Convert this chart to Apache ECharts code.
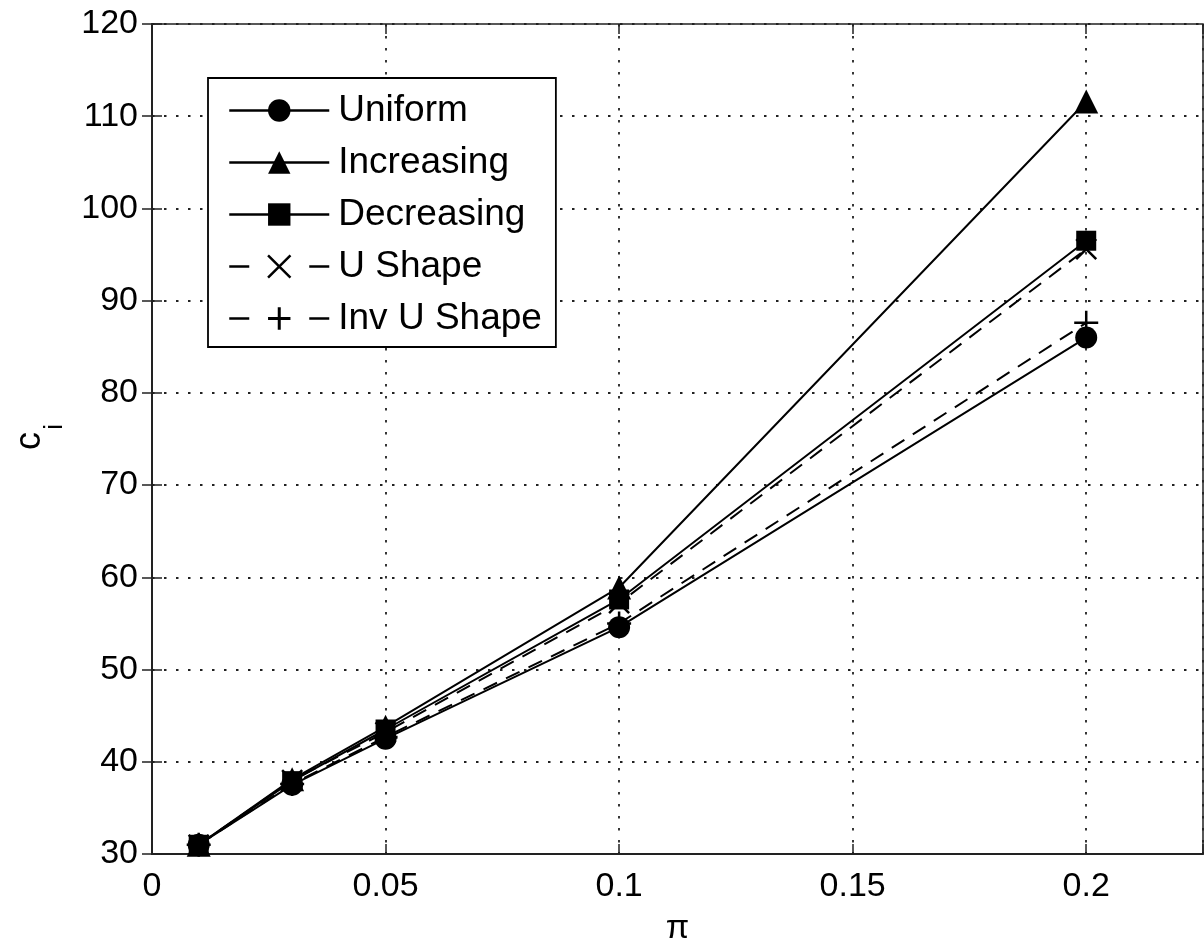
<!DOCTYPE html>
<html>
<head>
<meta charset="utf-8">
<style>
  html, body { margin: 0; padding: 0; background: #fff; }
  #chart { width: 1204px; height: 944px; }
</style>
<script src="https://cdn.jsdelivr.net/npm/echarts@6/dist/echarts.min.js"></script>
</head>
<body>
<div id="chart"></div>
<script>
// x values (pi) and c_i per distribution
const piValues = [0.01, 0.03, 0.05, 0.1, 0.2];
const uniform = [31, 37.5, 42.5, 54.6, 86.0];
const increasing = [31, 38.1, 43.8, 58.9, 111.6];
const decreasing = [31, 37.9, 43.5, 57.6, 96.5];
const uShape = [31, 38.0, 43.2, 57.2, 95.6];
const invUShape = [31, 37.6, 42.7, 55.0, 87.6];
const xTicks = [0, 0.05, 0.1, 0.15, 0.2];

const font = 'Liberation Sans, Arial, Helvetica, sans-serif';
const crossPath = 'path://M0,0L10,10M10,0L0,10';
const plusPath = 'path://M5,0L5,10M0,5L10,5';

const pairs = (ys) => piValues.map((x, i) => [x, ys[i]]);

function makeSeries(name, ys, symbol, size, dashed) {
  const stroked = symbol.startsWith('path://');
  return {
    name,
    type: 'line',
    data: pairs(ys),
    symbol,
    symbolSize: size,
    showAllSymbol: true,
    lineStyle: { color: '#000', width: 2, type: dashed ? [15, 10] : 'solid' },
    itemStyle: stroked
      ? { color: 'none', borderColor: '#000', borderWidth: 2.5 }
      : { color: '#000', borderColor: '#000', borderWidth: 0 },
    emphasis: { disabled: true },
    z: 3,
  };
}

const chart = echarts.init(document.getElementById('chart'));

const gridLine = { show: true, lineStyle: { color: '#222', width: 1.8, type: [2.5, 9.5] } };
const tick = { show: true, inside: true, length: 10, lineStyle: { color: '#222', width: 1.5 } };
const legendDash = [20, 60];

chart.setOption({
  animation: false,
  textStyle: { fontFamily: font },
  grid: {
    left: 152, top: 24, right: 1, bottom: 90,
    outerBoundsMode: 'none',
    containLabel: false,
    show: true, borderColor: '#222', borderWidth: 1.5,
  },
  legend: {
    left: 208,
    top: 78,
    orient: 'vertical',
    backgroundColor: '#fff',
    borderColor: '#000',
    borderWidth: 1.8,
    padding: [14, 14, 10, 20],
    itemWidth: 100,
    itemHeight: 28,
    itemGap: 15,
    lineStyle: { width: 2.5 },
    textStyle: { fontSize: 37, lineHeight: 36, color: '#000', fontFamily: font, padding: [0, 0, 0, 4] },
    data: [
      { name: 'Uniform' },
      { name: 'Increasing' },
      { name: 'Decreasing' },
      { name: 'U Shape', lineStyle: { type: legendDash }, itemStyle: { borderWidth: 2.5 } },
      { name: 'Inv U Shape', lineStyle: { type: legendDash }, itemStyle: { borderWidth: 3 } },
    ],
  },
  xAxis: [
    {
      type: 'value',
      min: 0,
      max: 0.225,
      interval: 0.05,
      name: 'π',
      nameLocation: 'middle',
      nameGap: 58,
      nameTextStyle: { fontSize: 34, color: '#000', fontFamily: font },
      axisLine: { show: true, lineStyle: { color: '#222', width: 2 } },
      axisTick: tick,
      axisLabel: {
        fontSize: 34,
        color: '#000',
        margin: 16,
        formatter: (v) => {
          const r = +v.toFixed(3);
          return xTicks.includes(r) ? String(r) : '';
        },
      },
      splitLine: gridLine,
    },
    {
      type: 'value',
      position: 'top',
      min: 0,
      max: 0.225,
      interval: 0.05,
      axisLine: { show: false },
      axisTick: tick,
      axisLabel: { show: false },
      splitLine: { show: false },
    },
  ],
  yAxis: [
    {
      type: 'value',
      min: 30,
      max: 120,
      interval: 10,
      axisLine: { show: true, lineStyle: { color: '#222', width: 2 } },
      axisTick: tick,
      axisLabel: { fontSize: 34, color: '#000', margin: 14 },
      splitLine: gridLine,
    },
    {
      type: 'value',
      position: 'right',
      min: 30,
      max: 120,
      interval: 10,
      axisLine: { show: false },
      axisTick: tick,
      axisLabel: { show: false },
      splitLine: { show: false },
    },
  ],
  graphic: [
    {
      type: 'text',
      left: 12,
      top: 432,
      rotation: Math.PI / 2,
      style: { text: 'c', fontSize: 36, fill: '#000', fontFamily: font },
    },
    {
      type: 'text',
      left: 42,
      top: 424,
      rotation: Math.PI / 2,
      style: { text: 'i', fontSize: 26, fill: '#000', fontFamily: font },
    },
  ],
  series: [
    makeSeries('Uniform', uniform, 'circle', 22, false),
    makeSeries('Increasing', increasing, 'triangle', 24, false),
    makeSeries('Decreasing', decreasing, 'rect', 20, false),
    makeSeries('U Shape', uShape, crossPath, 20, true),
    makeSeries('Inv U Shape', invUShape, plusPath, 24, true),
  ],
});
</script>
</body>
</html>
